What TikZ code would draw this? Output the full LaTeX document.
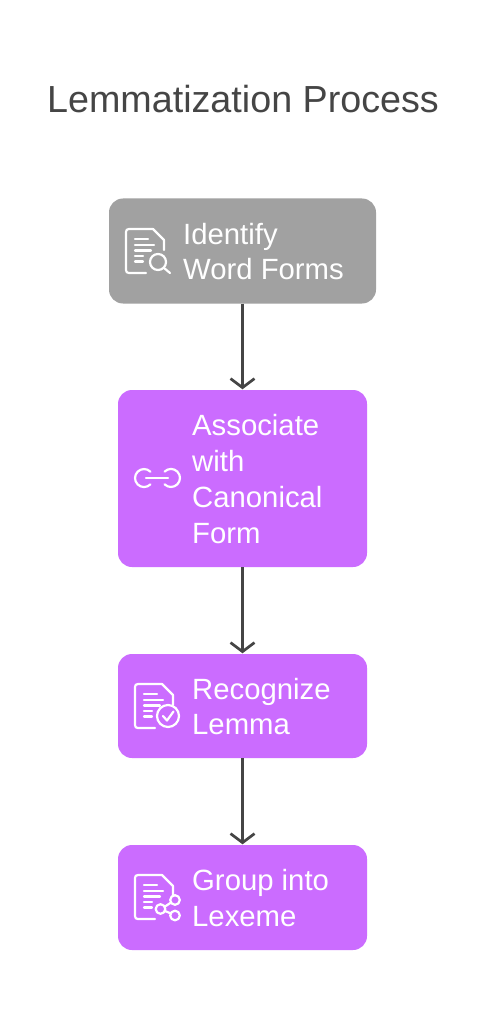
\documentclass[tikz,border=0pt]{standalone}
\usepackage{fontspec}
\setmainfont{Liberation Sans}
\usetikzlibrary{arrows.meta}
\definecolor{stepgray}{HTML}{A1A1A1}
\definecolor{steppurple}{HTML}{CB6CFF}
\definecolor{inkgray}{HTML}{454545}
\tikzset{
    stepbox/.style={draw=none, rounded corners=14pt, inner sep=0pt, text width=0pt},
    steptext/.style={anchor=west, text=white, font=\fontsize{29.3}{35.7}\selectfont, align=left, inner sep=0pt},
    flow/.style={draw=inkgray, line width=2.7pt, -{Straight Barb[length=9pt,width=24pt,line width=2.7pt]}, shorten >=0.5pt},
    iconline/.style={draw=white, line width=2.2pt, line cap=round, line join=round},
    docicon/.pic={
        \draw[iconline] (20,44) -- (3,44) .. controls (1,44) and (0,43) .. (0,41) -- (0,3) .. controls (0,1) and (1,0) .. (3,0) -- (27,0) -- (38,11) -- (38,21);
        \draw[iconline] (9,10) -- (22,10);
        \draw[iconline] (9,16) -- (28,16);
        \draw[iconline] (9,21.5) -- (25,21.5);
        \draw[iconline] (9,27) -- (17,27);
        \draw[iconline] (9,32.5) -- (17,32.5);
    }
}
\begin{document}
\begin{tikzpicture}[x=1pt, y=-1pt]
\useasboundingbox (0,0) rectangle (485,1024);
\fill[white] (0,0) rectangle (485,1024);

\node[text=inkgray, font=\fontsize{37.7}{44}\selectfont, inner sep=0pt] (title) at (243,99) {Lemmatization Process};

\node[stepbox, fill=stepgray, minimum width=267pt, minimum height=105pt] (identify) at (242.5,251) {};
\node[stepbox, fill=steppurple, minimum width=249pt, minimum height=177pt] (associate) at (242.5,478.5) {};
\node[stepbox, fill=steppurple, minimum width=249pt, minimum height=104pt] (recognize) at (242.5,706) {};
\node[stepbox, fill=steppurple, minimum width=249pt, minimum height=105pt] (group) at (242.5,897.5) {};

\node[steptext] (identifytext) at (183,251.5) {Identify\\Word Forms};
\node[steptext] (associatetext) at (192,479) {Associate\\with\\Canonical\\Form};
\node[steptext] (recognizetext) at (192,706.5) {Recognize\\Lemma};
\node[steptext] (grouptext) at (192,898) {Group into\\Lexeme};

\draw[flow] (identify) -- (associate);
\draw[flow] (associate) -- (recognize);
\draw[flow] (recognize) -- (group);

% identify icon
\pic at (126,229) {docicon};
\draw[iconline] (158,262) circle (8pt);
\draw[iconline] (164,268) -- (170,273);

% associate icon
\draw[iconline] (150.4,484.4) arc[start angle=-45, end angle=-315, radius=9pt];
\draw[iconline] (164.6,471.6) arc[start angle=135, end angle=-135, radius=9pt];
\draw[iconline] (146,478) -- (168,478);

% recognize icon
\pic at (135,684) {docicon};
\draw[iconline] (168,716) circle (11pt);
\draw[iconline] (163,716) -- (167,720.5) -- (173.5,711.5);

% group icon
\pic at (135,875) {docicon};
\draw[iconline] (160.5,909) circle (4.8pt);
\draw[iconline] (175,900) circle (4.8pt);
\draw[iconline] (175,915.5) circle (4.8pt);
\draw[iconline] (165,906.5) -- (171,902.5);
\draw[iconline] (165,911) -- (171,913.5);
\end{tikzpicture}
\end{document}
